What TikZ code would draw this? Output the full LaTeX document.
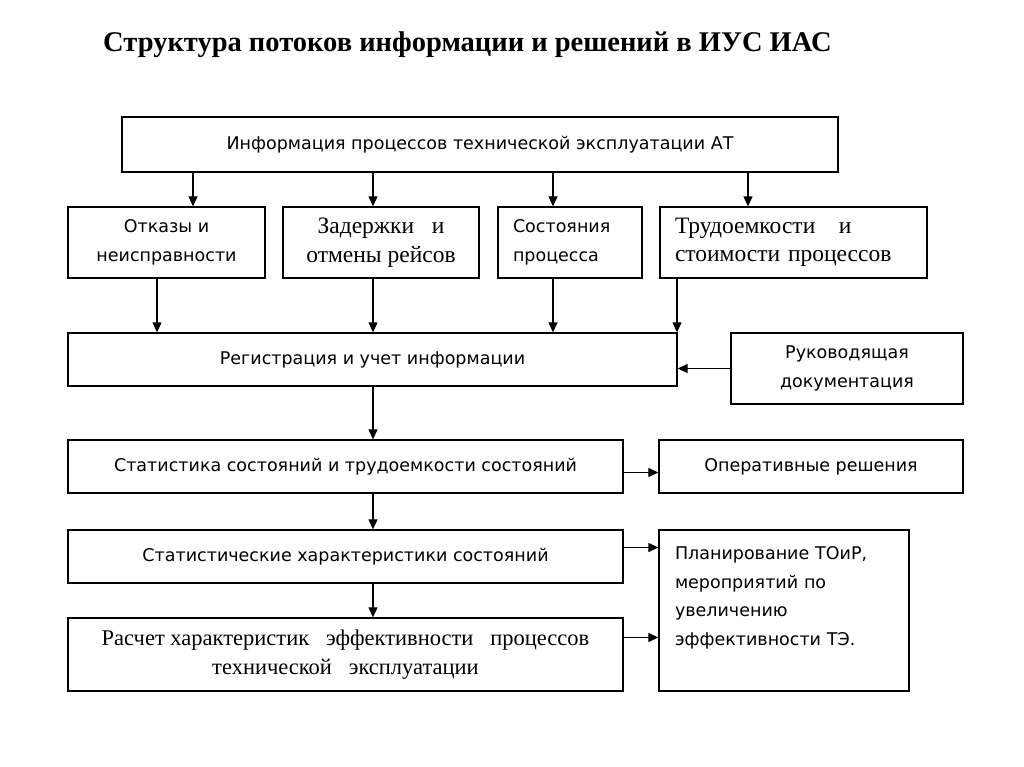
\documentclass[tikz,border=0pt]{standalone}
\usepackage{fontspec}
\setmainfont{Liberation Serif}
\newfontfamily\boxfont{DejaVu Sans}
\usetikzlibrary{arrows.meta}
\tikzset{every picture/.style = {x=1pt, y=-1pt}}
\tikzset{blok/.style = {draw, line width=1.3pt, inner sep=0, minimum height=53}}
\tikzset{sans/.style = {font=\boxfont\fontsize{17.5}{28.5}\selectfont, align=center}}
\tikzset{serif/.style = {font=\fontsize{23.5}{28.5}\selectfont, align=center}}
\tikzset{arr/.style = {-{Triangle[length=10pt, width=9pt]}, line width=1.2pt}}
\begin{document}
\begin{tikzpicture}
  \useasboundingbox (0,0) rectangle (1024,767);
  \node[font=\bfseries\fontsize{28.5}{32}\selectfont] (title) at (467.5,45)
    {Структура потоков информации и решений в ИУС ИАС};
  % information sources
  \node[blok, sans, minimum width=716, minimum height=55] (info) at (480,144.5)
    {Информация процессов технической эксплуатации АТ};
  \node[blok, sans, minimum width=197, minimum height=71] (otk) at (166.5,242.5)
    {Отказы и\\неисправности};
  \node[blok, serif, minimum width=196, minimum height=71] (zad) at (381,242.5)
    {Задержки~~ и\\отмены рейсов};
  \node[blok, sans, align=left, text width=114, minimum width=144, minimum height=71] (sost) at (570,242.5)
    {Состояния\\процесса};
  \node[blok, serif, align=left, text width=237, minimum width=267, minimum height=71] (trud) at (793.5,242.5)
    {Трудоемкости~~ и\\стоимости процессов};
  % processing
  \node[blok, sans, minimum width=609] (reg) at (372.5,359.5)
    {Регистрация и учет информации};
  \node[blok, sans, minimum width=232, minimum height=71] (ruk) at (847,368.5)
    {Руководящая\\документация};
  \node[blok, sans, minimum width=555] (stat) at (345.5,466.5)
    {Статистика состояний и трудоемкости состояний};
  \node[blok, sans, minimum width=304] (oper) at (811,466.5)
    {Оперативные решения};
  \node[blok, sans, minimum width=555] (har) at (345.5,556.5)
    {Статистические характеристики состояний};
  \node[blok, serif, font=\fontsize{22.5}{28.5}\selectfont, minimum width=555, minimum height=73] (rasch) at (345.5,654.5)
    {Расчет характеристик~~ эффективности~~ процессов\\технической~~ эксплуатации};
  \node[blok, sans, align=left, text width=218, minimum width=250, minimum height=161] (plan) at (784,610.5)
    {Планирование ТОиР,\\мероприятий по\\увеличению\\эффективности ТЭ.\\\mbox{}};
  % arrow columns
  \coordinate (c1) at (193,0);
  \coordinate (c2) at (373,0);
  \coordinate (c3) at (553,0);
  \coordinate (c4) at (748,0);
  \coordinate (d1) at (157,0);
  \coordinate (d4) at (677,0);
  \draw[arr] (c1 |- info.south) -- (c1 |- otk.north);
  \draw[arr] (c2 |- info.south) -- (c2 |- zad.north);
  \draw[arr] (c3 |- info.south) -- (c3 |- sost.north);
  \draw[arr] (c4 |- info.south) -- (c4 |- trud.north);
  \draw[arr] (d1 |- otk.south) -- (d1 |- reg.north);
  \draw[arr] (c2 |- zad.south) -- (c2 |- reg.north);
  \draw[arr] (c3 |- sost.south) -- (c3 |- reg.north);
  \draw[arr] (d4 |- trud.south) -- (d4 |- reg.north);
  \draw[arr] (ruk.west) -- (ruk.west -| reg.east);
  \draw[arr] (c2 |- reg.south) -- (c2 |- stat.north);
  \draw[arr] (c2 |- stat.south) -- (c2 |- har.north);
  \draw[arr] (c2 |- har.south) -- (c2 |- rasch.north);
  \coordinate (s1) at ([yshift=-6pt]stat.east);
  \coordinate (h1) at ([yshift=9pt]har.east);
  \coordinate (r1) at ([yshift=17pt]rasch.east);
  \draw[arr] (s1) -- (s1 -| oper.west);
  \draw[arr] (h1) -- (h1 -| plan.west);
  \draw[arr] (r1) -- (r1 -| plan.west);
\end{tikzpicture}
\end{document}
